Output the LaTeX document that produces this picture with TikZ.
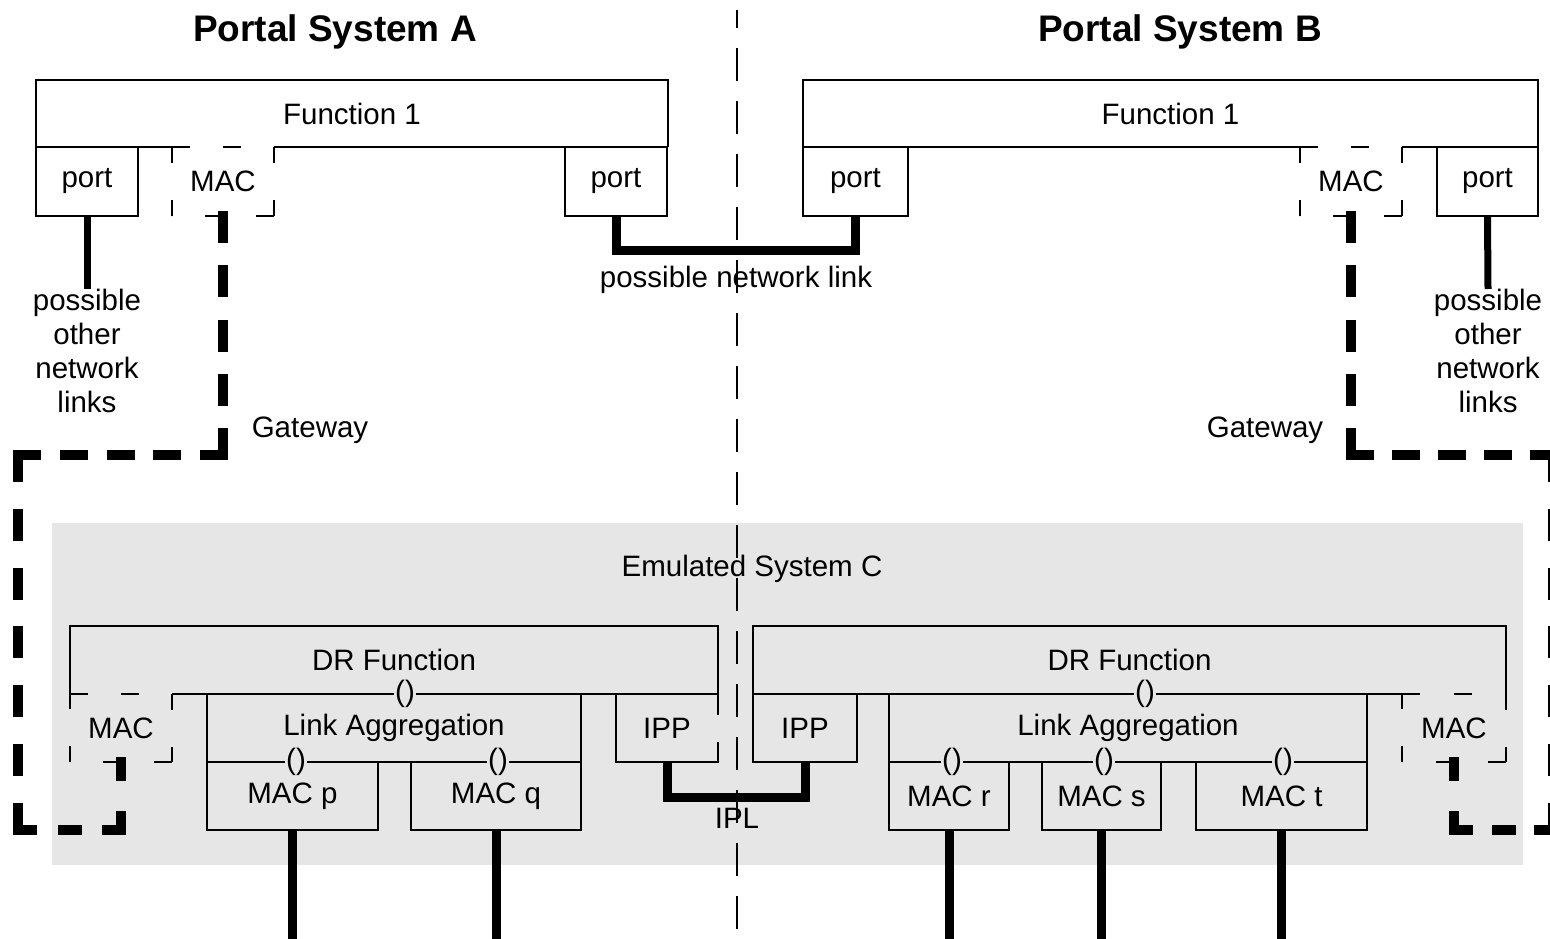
\documentclass[tikz,border=0pt]{standalone}
\usepackage{fontspec}
\setmainfont{Liberation Sans}
\definecolor{bg}{HTML}{E6E6E6}
\newcommand\dashedbox[2]{%
  \draw[dsh={#2}] (#1.north west) -- (#1.north east);
  \draw[dsv] (#1.north east) -- (#1.south east);
  \draw[dsh={#2}] (#1.south east) -- (#1.south west);
  \draw[dsv] (#1.south west) -- (#1.north west);}
\begin{document}
\begin{tikzpicture}[x=1pt,y=-1pt,
  txt/.style={font=\fontsize{29.5}{34}\selectfont, inner sep=0pt, outer sep=0pt},
  ttl/.style={font=\fontsize{37}{40}\selectfont\bfseries, inner sep=0pt},
  sbox/.style={txt, draw, line width=1.8pt},
  hbox/.style={txt},
  thn/.style={line width=1.8pt},
  dsh/.style={line width=1.8pt, dash pattern=on 18pt off #1pt},
  dsv/.style={line width=1.8pt, dash pattern=on 16pt off 37pt},
  gwp/.style 2 args={line width=10pt, line cap=rect, dash pattern=on #1pt off #2pt},
  thk/.style={line width=9pt},
  thm/.style={line width=7pt},
  par/.style={txt, fill=bg, inner xsep=1pt}]
\useasboundingbox (0,0) rectangle (1550,939);
\fill[white] (0,0) rectangle (1550,939);

% titles
\node[ttl] (ta) at (335,32) {Portal System A};
\node[ttl] (tb) at (1180,32) {Portal System B};

% ---- Portal System A ----
\node[hbox, minimum width=632pt, minimum height=67pt] (f1a) at (352,113.5) {Function 1};
\node[sbox, minimum width=102pt, minimum height=69pt] (pa1) at (87,181.5) {port};
\node[hbox, minimum width=102pt, minimum height=69pt] (maca) at (223,181.5) {MAC};
\node[sbox, minimum width=102pt, minimum height=69pt] (pa2) at (616,181.5) {port};
\draw[thn] (f1a.south west) -- (f1a.north west) -- (f1a.north east) -- (f1a.south east);
\draw[thn] (f1a.south west) -- (maca.north west);
\draw[thn] (maca.north east) -- (f1a.south east);
\dashedbox{maca}{33}

% ---- Portal System B ----
\node[hbox, minimum width=735pt, minimum height=67pt] (f1b) at (1170.5,113.5) {Function 1};
\node[sbox, minimum width=105pt, minimum height=69pt] (pb1) at (855.5,181.5) {port};
\node[hbox, minimum width=102pt, minimum height=69pt] (macb) at (1351,181.5) {MAC};
\node[sbox, minimum width=101pt, minimum height=69pt] (pb2) at (1487.5,181.5) {port};
\draw[thn] (f1b.south west) -- (f1b.north west) -- (f1b.north east) -- (f1b.south east);
\draw[thn] (f1b.south west) -- (macb.north west);
\draw[thn] (macb.north east) -- (f1b.south east);
\dashedbox{macb}{33}

% labels upper
\node[txt, align=center, anchor=north] (ola) at (87,289) {possible\\other\\network\\links};
\node[txt, align=center, anchor=north] (olb) at (1488,289) {possible\\other\\network\\links};
\node[txt] (nl) at (736,280) {possible network link};
\node[txt] (gwa) at (310,430) {Gateway};
\node[txt] (gwb) at (1265,430) {Gateway};

\draw[thm] (pa1.south) -- (ola.north);
\draw[thm] (pb2.south) -- (olb.north);
\draw[thk] (pa2.south) -- ++(0,34) -| (pb1.south);

% ---- Emulated system ----
\node[fill=bg, inner sep=0pt, minimum width=1471pt, minimum height=342pt] (emu) at (787.5,694) {};
\node[txt] (esc) at (752,569) {Emulated System C};

% DR A
\node[hbox, minimum width=648pt, minimum height=68pt] (dra) at (394,660) {DR Function};
\node[hbox, minimum width=102pt, minimum height=68pt] (macda) at (121,728) {MAC};
\node[sbox, minimum width=374pt, minimum height=68pt] (laa) at (394,728) {Link Aggregation};
\node[sbox, minimum width=171pt, minimum height=68pt] (macp) at (292.5,796) {MAC p};
\node[sbox, minimum width=170pt, minimum height=68pt] (macq) at (496,796) {MAC q};
\node[hbox, minimum width=102pt, minimum height=68pt] (ippa) at (667,728) {IPP};
\draw[thn] (dra.south west) -- (dra.north west) -- (dra.north east) -- ([yshift=-21pt]dra.south east);
\draw[thn] (macda.north east) -- (dra.south east);
\draw[thn] (ippa.north west) -- (ippa.south west) -- (ippa.south east) -- ([yshift=20pt]ippa.south east);
\dashedbox{macda}{33}
\node[par] (pda) at ([xshift=11pt]laa.north) {()};
\node[par] (ppa) at ([xshift=3.5pt]macp.north) {()};
\node[par] (pqa) at ([xshift=2pt]macq.north) {()};

% DR B
\node[hbox, minimum width=753pt, minimum height=68pt] (drb) at (1129.5,660) {DR Function};
\node[sbox, minimum width=104pt, minimum height=68pt] (ippb) at (805,728) {IPP};
\node[sbox, minimum width=478pt, minimum height=68pt] (lab) at (1128,728) {Link Aggregation};
\node[sbox, minimum width=120pt, minimum height=68pt] (macr) at (949,796) {MAC r};
\node[sbox, minimum width=119pt, minimum height=68pt] (macs) at (1101.5,796) {MAC s};
\node[sbox, minimum width=171pt, minimum height=68pt] (mact) at (1281.5,796) {MAC t};
\node[hbox, minimum width=104pt, minimum height=68pt] (macdb) at (1454,728) {MAC};
\draw[thn] (drb.south west) -- (drb.north west) -- (drb.north east) -- (drb.south east);
\draw[thn] (drb.south west) -- (macdb.north west);
\dashedbox{macdb}{34}
\node[par] (pdb) at ([xshift=17pt]lab.north) {()};
\node[par] (prb) at ([xshift=3pt]macr.north) {()};
\node[par] (psb) at ([xshift=2.5pt]macs.north) {()};
\node[par] (ptb) at ([xshift=1.5pt]mact.north) {()};

% IPL
\node[txt] (ipl) at (737,818) {IPL};
\draw[thk] (ippa.south) -- ++(0,35) -| (ippb.south);

% bottom links
\draw[thk] (macp.south) -- ++(0,110);
\draw[thk] (macq.south) -- ++(0,110);
\draw[thk] (macr.south) -- ++(0,110);
\draw[thk] (macs.south) -- ++(0,110);
\draw[thk] (mact.south) -- ++(0,110);

% gateways
\coordinate (ga1) at (223,455);
\coordinate (ga2) at (18,455);
\coordinate (ga3) at (18,830);
\coordinate (ga4) at (121,830);
\draw[gwp={22}{32.25}] (maca.south) -- (ga1);
\draw[gwp={18}{28.75}] (ga1) -- (ga2);
\draw[gwp={22}{36.8}] (ga2) -- (ga3);
\draw[gwp={14}{30.5}] (ga3) -- (ga4);
\draw[gwp={14}{40}] (ga4) -- (macda.south);
\coordinate (gb1) at (1351,455);
\coordinate (gb2) at (1553,455);
\coordinate (gb3) at (1553,830);
\coordinate (gb4) at (1454,830);
\draw[gwp={22}{32.25}] (macb.south) -- (gb1);
\draw[gwp={18}{28}] (gb1) -- (gb2);
\draw[gwp={22}{36.8}] (gb2) -- (gb3);
\draw[gwp={14}{28.5}] (gb3) -- (gb4);
\draw[gwp={14}{40}] (gb4) -- (macdb.south);

% centre divider
\coordinate (c1) at (737,10);
\coordinate (c2) at (737,939);
\draw[line width=2pt, dash pattern=on 33pt off 20pt, dash phase=15pt] (c1) -- (c2);
\end{tikzpicture}
\end{document}
